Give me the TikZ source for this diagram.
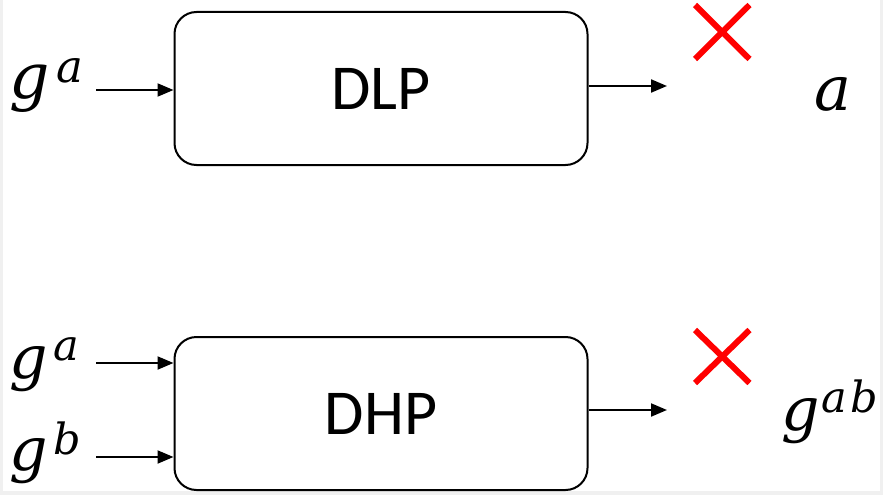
\documentclass[tikz,border=0pt]{standalone}
\usepackage{fontspec}
\newfontfamily\boxfont{Carlito}
\newfontfamily\lblfont{DejaVu Serif}
\usetikzlibrary{arrows.meta}
\definecolor{bordergray}{HTML}{F0F0F0}
\definecolor{xred}{HTML}{FF0000}
% #1 base size, #2 base letter, #3 gap, #4 superscript size, #5 raise, #6 superscript text
\newcommand{\mysupvar}[6]{{\lblfont\itshape\fontsize{#1}{#1}\selectfont #2\kern#3\raisebox{#5}{\fontsize{#4}{#4}\selectfont #6}}}
\tikzset{
  procbox/.style={draw=black, line width=2pt, rounded corners=22pt, minimum width=413pt, minimum height=153pt, inner sep=0pt, font=\boxfont\fontsize{64}{70}\selectfont},
  arr/.style={line width=2pt, -{Triangle[length=16pt,width=13pt]}},
  cross/.style={draw=xred, line width=6pt},
  lbl/.style={anchor=base west, inner sep=0pt}
}
\begin{document}
\begin{tikzpicture}[x=1pt,y=-1pt]
\useasboundingbox (0,0) rectangle (883,495);
\fill[bordergray] (0,0) rectangle (883,495);
\fill[white] (3,0) rectangle (880,491);

% top: DLP
\node[procbox] (dlp) at (381,88.5) {DLP};
\node[lbl] (ga1) at (9,98) {\mysupvar{63pt}{g}{7pt}{45pt}{16pt}{a}};
\coordinate (in1) at (96,90);
\draw[arr] (in1) -- (in1 -| dlp.west);
\coordinate (out1) at (667,86);
\draw[arr] (out1 -| dlp.east) -- (out1);
\coordinate (x1a) at (695,5);
\coordinate (x1b) at (749.5,59);
\coordinate (x1c) at (695,59);
\coordinate (x1d) at (749.5,5);
\draw[cross] (x1a) -- (x1b);
\draw[cross] (x1c) -- (x1d);
\node[lbl, font=\lblfont\itshape\fontsize{62}{66}\selectfont] (res1) at (814,110) {a};

% bottom: DHP
\node[procbox] (dhp) at (381,413.5) {DHP};
\node[lbl] (ga2) at (9,378) {\mysupvar{60pt}{g}{6pt}{43pt}{18pt}{a}};
\node[lbl] (gb2) at (9,470) {\mysupvar{60pt}{g}{6pt}{43pt}{16pt}{b}};
\coordinate (in2) at (96,363);
\coordinate (in3) at (96,457);
\draw[arr] (in2) -- (in2 -| dhp.west);
\draw[arr] (in3) -- (in3 -| dhp.west);
\coordinate (out2) at (667,410);
\draw[arr] (out2 -| dhp.east) -- (out2);
\coordinate (x2a) at (695,330);
\coordinate (x2b) at (749.5,383);
\coordinate (x2c) at (695,383);
\coordinate (x2d) at (749.5,330);
\draw[cross] (x2a) -- (x2b);
\draw[cross] (x2c) -- (x2d);
\node[lbl] (res2) at (781,430) {\mysupvar{60pt}{g}{2pt}{43pt}{18pt}{a\kern3pt b}};
\end{tikzpicture}
\end{document}
